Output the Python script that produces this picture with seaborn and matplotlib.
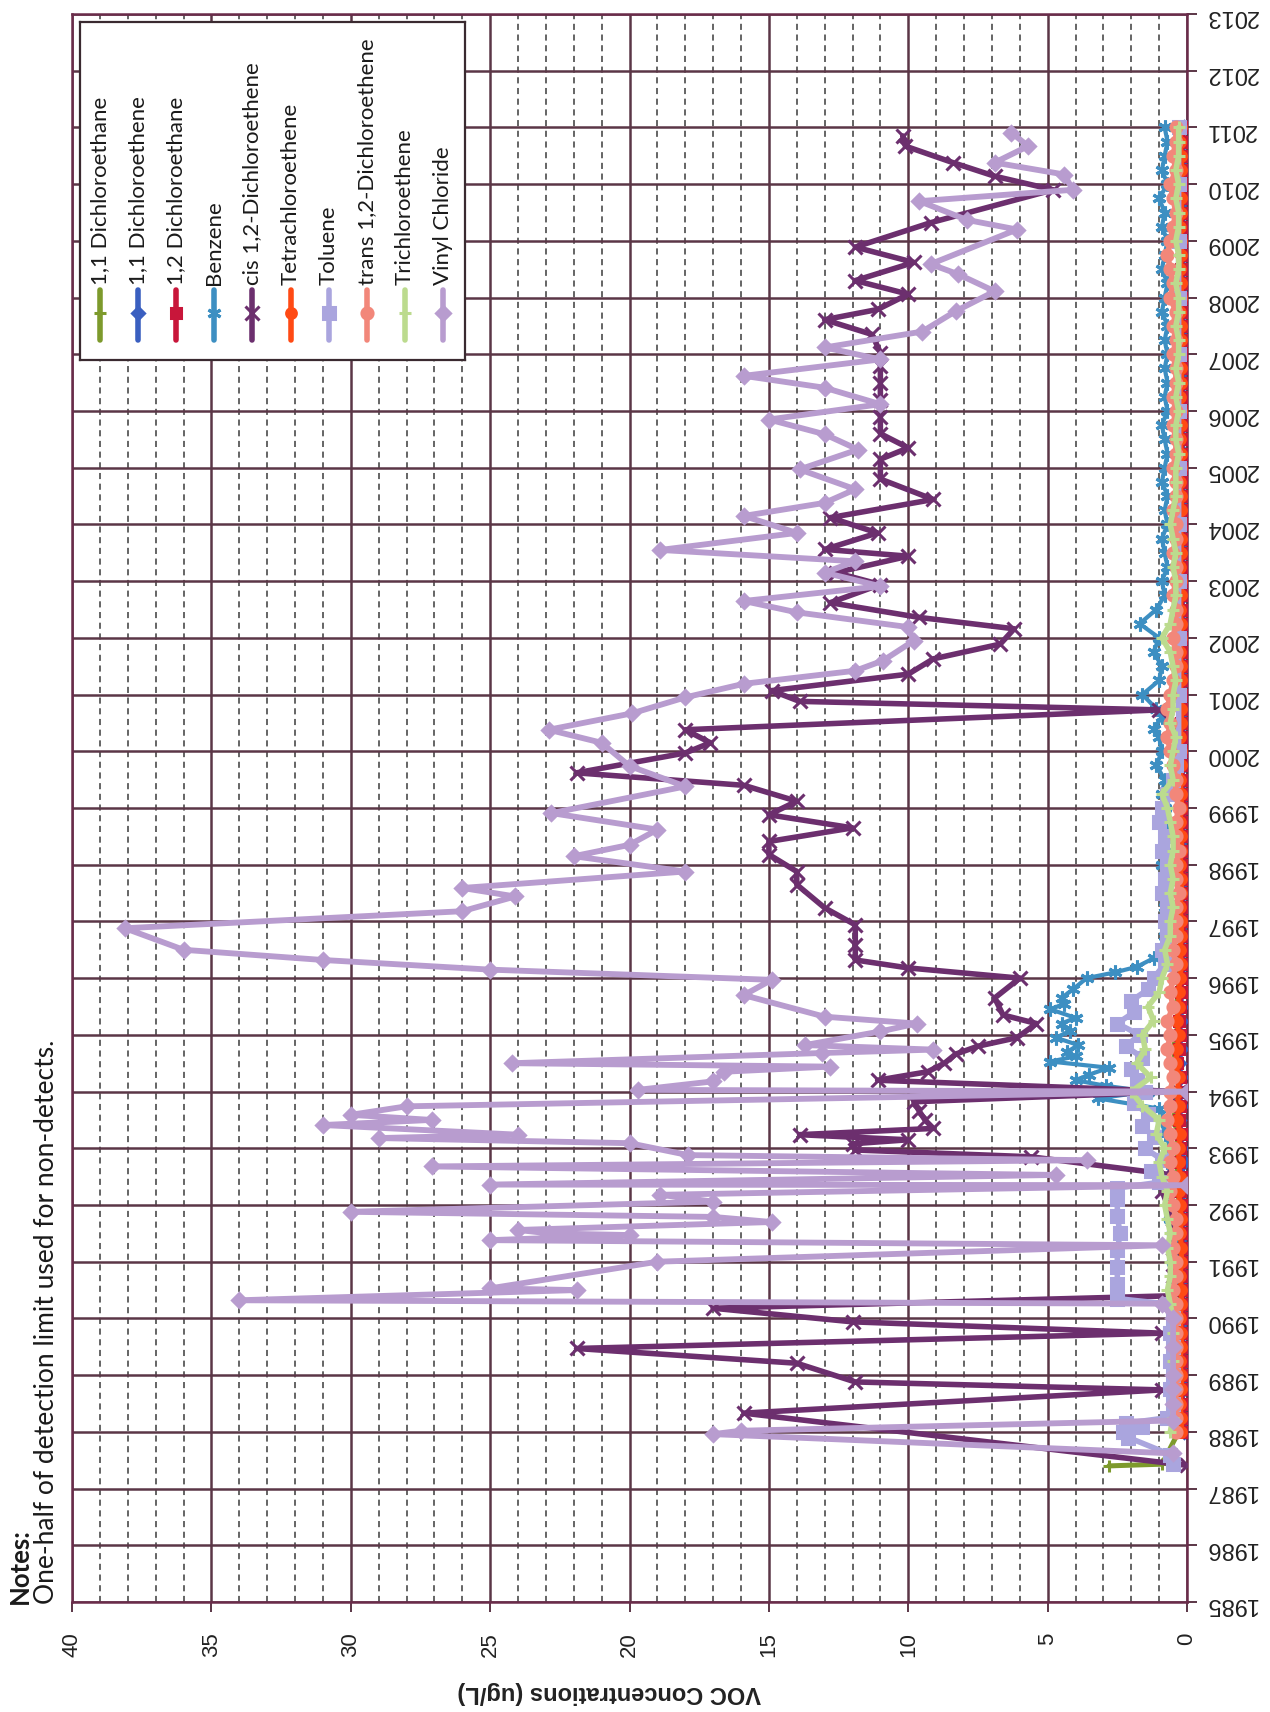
import numpy as np
import pandas as pd
import matplotlib
matplotlib.use("Agg")
import matplotlib.pyplot as plt
from matplotlib.ticker import MultipleLocator
import seaborn as sns

sns.set_theme(style="white")
plt.rcParams['font.family'] = ['Liberation Sans', 'DejaVu Sans']

# ---------------- data ----------------
series_names = ["1,1 Dichloroethane", "1,1 Dichloroethene", "1,2 Dichloroethane", "Benzene",
                "cis 1,2-Dichloroethene", "Tetrachloroethene", "Toluene",
                "trans 1,2-Dichloroethene", "Trichloroethene", "Vinyl Chloride"]

# quarterly sampling dates used by the low-level compounds (1988.00 ... 2011.00)
q_years = [1988.00, 1988.25, 1988.50, 1988.75, 1989.00, 1989.25, 1989.50, 1989.75,
           1990.00, 1990.25, 1990.50, 1990.75, 1991.00, 1991.25, 1991.50, 1991.75,
           1992.00, 1992.25, 1992.50, 1992.75, 1993.00, 1993.25, 1993.50, 1993.75,
           1994.00, 1994.25, 1994.50, 1994.75, 1995.00, 1995.25, 1995.50, 1995.75,
           1996.00, 1996.25, 1996.50, 1996.75, 1997.00, 1997.25, 1997.50, 1997.75,
           1998.00, 1998.25, 1998.50, 1998.75, 1999.00, 1999.25, 1999.50, 1999.75,
           2000.00, 2000.25, 2000.50, 2000.75, 2001.00, 2001.25, 2001.50, 2001.75,
           2002.00, 2002.25, 2002.50, 2002.75, 2003.00, 2003.25, 2003.50, 2003.75,
           2004.00, 2004.25, 2004.50, 2004.75, 2005.00, 2005.25, 2005.50, 2005.75,
           2006.00, 2006.25, 2006.50, 2006.75, 2007.00, 2007.25, 2007.50, 2007.75,
           2008.00, 2008.25, 2008.50, 2008.75, 2009.00, 2009.25, 2009.50, 2009.75,
           2010.00, 2010.25, 2010.50, 2010.75, 2011.00]

dca11_years = [1987.40, 1987.43] + q_years
dca11_vals = [2.8, 0.9,
              0.3, 0.3, 0.2, 0.3, 0.3, 0.2, 0.3, 0.3, 0.2, 0.3, 0.3, 0.3, 0.2, 0.3, 0.3, 0.2,
              0.3, 0.3, 0.4, 0.3, 0.4, 0.3, 0.5, 0.4, 0.6, 0.5, 0.4, 0.5, 0.4, 0.3, 0.4, 0.3,
              0.3, 0.3, 0.2, 0.3, 0.3, 0.2, 0.3, 0.3, 0.2, 0.3, 0.2, 0.3, 0.3, 0.2, 0.3, 0.3,
              0.2, 0.3, 0.2, 0.3, 0.3, 0.2, 0.3, 0.5, 0.3, 0.2, 0.3, 0.2, 0.3, 0.3, 0.2, 0.3,
              0.5, 0.3, 0.2, 0.3, 0.2, 0.3, 0.2, 0.2, 0.3, 0.2, 0.2, 0.3, 0.2, 0.2, 0.3, 0.2,
              0.2, 0.3, 0.2, 0.2, 0.3, 0.2, 0.2, 0.3, 0.2, 0.2, 0.3, 0.2, 0.2]

dce11_vals = [0.1, 0.1, 0.2, 0.1, 0.1, 0.1, 0.2, 0.1, 0.1, 0.2, 0.1, 0.1, 0.2, 0.1, 0.1, 0.2,
              0.1, 0.2, 0.2, 0.1, 0.2, 0.2, 0.3, 0.2, 0.3, 0.2, 0.3, 0.2, 0.3, 0.2, 0.2, 0.2,
              0.2, 0.1, 0.2, 0.1, 0.1, 0.2, 0.1, 0.1, 0.2, 0.1, 0.1, 0.2, 0.1, 0.1, 0.2, 0.1,
              0.1, 0.2, 0.1, 0.1, 0.2, 0.1, 0.1, 0.2, 0.1, 0.1, 0.2, 0.1, 0.1, 0.2, 0.1, 0.1,
              0.2, 0.1, 0.1, 0.2, 0.1, 0.1, 0.2, 0.1, 0.1, 0.2, 0.1, 0.1, 0.2, 0.1, 0.1, 0.2,
              0.1, 0.1, 0.2, 0.1, 0.1, 0.2, 0.1, 0.1, 0.2, 0.1, 0.1, 0.2, 0.1]

dca12_vals = [0.15, 0.1, 0.15, 0.2, 0.15, 0.1, 0.15, 0.2, 0.15, 0.1, 0.2, 0.15, 0.1, 0.15, 0.2, 0.15,
              0.2, 0.25, 0.2, 0.3, 0.25, 0.2, 0.3, 0.25, 0.3, 0.25, 0.35, 0.3, 0.25, 0.3, 0.25, 0.2,
              0.2, 0.15, 0.2, 0.15, 0.1, 0.15, 0.2, 0.15, 0.1, 0.15, 0.2, 0.15, 0.1, 0.15, 0.2, 0.15,
              0.1, 0.15, 0.2, 0.15, 0.1, 0.15, 0.2, 0.15, 0.1, 0.15, 0.2, 0.15, 0.1, 0.15, 0.2, 0.15,
              0.1, 0.15, 0.2, 0.15, 0.1, 0.15, 0.2, 0.15, 0.1, 0.15, 0.2, 0.15, 0.1, 0.15, 0.2, 0.15,
              0.1, 0.15, 0.2, 0.15, 0.1, 0.15, 0.2, 0.15, 0.1, 0.15, 0.2, 0.15, 0.1]

pce_vals = [0.2, 0.2, 0.25, 0.2, 0.2, 0.25, 0.2, 0.2, 0.25, 0.2, 0.2, 0.25, 0.2, 0.2, 0.25, 0.2,
            0.25, 0.3, 0.25, 0.3, 0.3, 0.25, 0.35, 0.3, 0.35, 0.3, 0.4, 0.35, 0.3, 0.35, 0.3, 0.3,
            0.25, 0.2, 0.25, 0.2, 0.2, 0.25, 0.2, 0.2, 0.25, 0.2, 0.2, 0.25, 0.2, 0.2, 0.25, 0.2,
            0.2, 0.25, 0.2, 0.2, 0.25, 0.2, 0.2, 0.25, 0.2, 0.2, 0.25, 0.2, 0.2, 0.25, 0.2, 0.2,
            0.25, 0.2, 0.2, 0.25, 0.2, 0.2, 0.25, 0.2, 0.2, 0.25, 0.2, 0.2, 0.25, 0.2, 0.2, 0.25,
            0.2, 0.2, 0.25, 0.2, 0.2, 0.25, 0.2, 0.2, 0.25, 0.2, 0.2, 0.25, 0.2]

trans_vals = [0.4, 0.4, 0.4, 0.4, 0.4, 0.4, 0.4, 0.4, 0.4, 0.4, 0.5, 0.4, 0.4, 0.5, 0.4, 0.4,
              0.5, 0.6, 0.5, 0.6, 0.5, 0.6, 0.7, 0.6, 0.6, 0.5, 0.6, 0.7, 0.6, 0.7, 0.5, 0.6,
              0.5, 0.4, 0.5, 0.4, 0.4, 0.4, 0.3, 0.4, 0.4, 0.3, 0.4, 0.4, 0.3, 0.4, 0.4, 0.5,
              0.6, 0.7, 0.6, 0.7, 0.6, 0.5, 0.4, 0.4, 0.5, 0.4, 0.4, 0.5, 0.4, 0.4, 0.5, 0.4,
              0.4, 0.5, 0.4, 0.4, 0.5, 0.4, 0.4, 0.5, 0.4, 0.5, 0.4, 0.4, 0.5, 0.4, 0.5, 0.4,
              0.6, 0.5, 0.6, 0.7, 0.6, 0.5, 0.4, 0.5, 0.6, 0.4, 0.5, 0.4, 0.4]

tce_vals = [0.6, 0.5, 0.5, 0.5, 0.5, 0.5, 0.5, 0.5, 0.5, 0.6, 0.7, 0.6, 0.6, 0.7, 0.6, 0.7,
            0.8, 0.7, 0.9, 1.0, 0.8, 1.1, 1.0, 1.6, 2.0, 1.3, 1.8, 1.5, 1.6, 1.2, 1.4, 1.0,
            0.9, 0.7, 0.8, 0.6, 0.6, 0.5, 0.6, 0.5, 0.6, 0.5, 0.5, 0.6, 0.7, 0.9, 0.5, 0.6,
            0.5, 0.4, 0.6, 0.5, 0.5, 0.4, 0.5, 0.6, 0.9, 0.6, 0.5, 0.4, 0.4, 0.5, 0.4, 0.5,
            0.6, 0.5, 0.4, 0.4, 0.4, 0.3, 0.4, 0.4, 0.3, 0.4, 0.3, 0.4, 0.3, 0.3, 0.4, 0.3,
            0.3, 0.4, 0.3, 0.3, 0.4, 0.3, 0.3, 0.4, 0.3, 0.4, 0.3, 0.3, 0.3]

benz_years = [1990.50, 1990.75, 1991.00, 1991.25, 1991.50, 1991.75, 1992.00, 1992.25, 1992.50,
              1992.75, 1993.00, 1993.25, 1993.50, 1993.70, 1993.88, 1994.00, 1994.10, 1994.20,
              1994.30, 1994.42, 1994.53, 1994.62, 1994.70, 1994.82, 1994.95, 1995.07, 1995.20,
              1995.30, 1995.45, 1995.55, 1995.65, 1995.80, 1996.00, 1996.10, 1996.20, 1996.35,
              1996.50, 1996.75, 1997.00, 1997.25, 1997.50, 1997.75, 1998.00, 1998.25, 1998.50,
              1998.75, 1999.00, 1999.25, 1999.50, 1999.75, 2000.00, 2000.25, 2000.40, 2000.60,
              2000.75, 2001.00, 2001.25, 2001.50, 2001.75, 2002.00, 2002.25, 2002.50, 2002.75,
              2003.00, 2003.25, 2003.50, 2003.75, 2004.00, 2004.25, 2004.50, 2004.75, 2005.00,
              2005.25, 2005.50, 2005.75, 2006.00, 2006.25, 2006.50, 2006.75, 2007.00, 2007.25,
              2007.50, 2007.75, 2008.00, 2008.25, 2008.50, 2008.75, 2009.00, 2009.25, 2009.50,
              2009.75, 2010.00, 2010.25, 2010.50, 2010.75, 2011.00]
benz_vals = [0.5, 0.4, 0.5, 0.4, 0.5, 0.6, 0.5, 0.6, 0.5,
             0.7, 0.6, 0.8, 0.9, 1.0, 3.2, 1.4, 2.9, 4.0,
             3.5, 2.8, 4.9, 4.0, 4.3, 3.9, 4.7, 4.2, 4.5,
             4.0, 4.9, 4.4, 4.5, 4.1, 3.6, 2.6, 1.8, 1.2,
             0.9, 0.8, 0.7, 0.8, 0.7, 0.8, 0.9, 0.7, 0.8,
             0.7, 0.8, 0.9, 0.8, 1.1, 0.9, 1.0, 1.2, 0.9,
             1.1, 1.6, 1.0, 0.9, 1.2, 1.0, 1.7, 1.1, 0.8,
             0.9, 0.7, 0.8, 0.9, 0.7, 0.8, 0.7, 0.9, 0.8,
             0.7, 0.8, 0.9, 0.7, 0.8, 0.7, 0.8, 0.7, 0.8,
             0.7, 0.9, 0.8, 0.7, 0.9, 0.8, 0.7, 0.9, 0.8,
             1.0, 0.7, 0.9, 0.8, 0.7, 0.8]

tol_years = [1987.43, 1987.60, 1987.90, 1988.00, 1988.08, 1988.15, 1988.25, 1988.50, 1988.75,
             1989.00, 1989.25, 1989.50, 1989.75, 1990.00, 1990.25, 1990.35, 1990.60, 1990.90,
             1991.20, 1991.50, 1991.80, 1992.10, 1992.30, 1992.40, 1992.60, 1992.80, 1993.00,
             1993.20, 1993.40, 1993.60, 1993.80, 1994.00, 1994.20, 1994.40, 1994.60, 1994.80,
             1995.00, 1995.20, 1995.40, 1995.60, 1995.80, 1996.00, 1996.25, 1996.50, 1996.75,
             1997.00, 1997.25, 1997.50, 1997.75, 1998.00, 1998.25, 1998.50, 1998.75, 1999.00,
             1999.25, 1999.50, 1999.75, 2000.00, 2001.00, 2002.00, 2003.00, 2004.00, 2005.00,
             2006.00, 2007.00, 2008.00, 2009.00, 2010.00, 2011.00]
tol_vals = [0.5, 0.6, 2.1, 2.3, 1.6, 2.2, 0.7, 0.5, 0.6,
            0.5, 0.6, 0.5, 0.6, 0.5, 0.6, 2.5, 2.5, 2.5,
            2.5, 2.4, 2.5, 2.5, 2.5, 1.0, 1.3, 0.9, 1.5,
            1.2, 1.6, 1.4, 1.9, 1.5, 1.8, 2.0, 1.6, 2.2,
            1.7, 2.5, 1.9, 2.0, 1.4, 1.2, 0.8, 0.9, 0.7,
            0.8, 0.7, 0.9, 0.8, 0.7, 0.9, 0.8, 1.0, 0.9,
            0.7, 0.5, 0.4, 0.3, 0.3, 0.3, 0.3, 0.3, 0.3,
            0.3, 0.3, 0.3, 0.3, 0.3, 0.3]

cis_years = [1987.41, 1988.33, 1988.74, 1988.88, 1989.21, 1989.47, 1989.74, 1989.94, 1990.18,
             1990.40, 1990.75, 1991.25, 1991.75, 1992.25, 1992.55, 1992.85, 1992.97, 1993.08,
             1993.15, 1993.24, 1993.35, 1993.50, 1993.65, 1993.82, 1994.00, 1994.20, 1994.35,
             1994.50, 1994.66, 1994.80, 1994.95, 1995.20, 1995.35, 1995.65, 1996.00, 1996.18,
             1996.32, 1996.59, 1996.94, 1997.24, 1997.65, 1997.88, 1998.18, 1998.41, 1998.65,
             1998.88, 1999.12, 1999.40, 1999.62, 1999.97, 2000.15, 2000.38, 2000.73, 2000.88,
             2001.07, 2001.36, 2001.63, 2001.89, 2002.16, 2002.36, 2002.62, 2002.94, 2003.15,
             2003.44, 2003.56, 2003.85, 2004.12, 2004.44, 2004.80, 2005.15, 2005.35, 2005.60,
             2005.90, 2006.20, 2006.50, 2006.80, 2007.03, 2007.35, 2007.61, 2007.79, 2008.06,
             2008.30, 2008.62, 2008.89, 2009.32, 2009.90, 2010.14, 2010.38, 2010.67, 2010.85]
cis_vals = [0.0, 15.9, 0.9, 11.9, 14.0, 21.9, 0.9, 12.0, 17.0,
            0.5, 0.5, 0.5, 0.5, 0.9, 0.8, 5.6, 11.9, 12.0,
            10.0, 13.9, 9.1, 9.4, 9.6, 9.8, 0.3, 11.1, 9.3,
            8.7, 8.3, 7.5, 6.1, 5.4, 6.6, 6.9, 6.0, 10.0,
            11.9, 11.9, 11.9, 13.0, 14.0, 14.0, 15.0, 15.0, 12.0,
            15.0, 14.0, 15.9, 21.9, 18.0, 17.1, 18.0, 1.0, 13.9,
            14.9, 10.0, 9.1, 6.7, 6.2, 9.6, 12.8, 11.0, 12.6,
            10.0, 13.0, 11.1, 12.8, 9.1, 11.0, 11.0, 10.0, 11.0,
            11.0, 11.0, 11.0, 11.0, 11.0, 11.3, 13.0, 11.1, 10.0,
            11.9, 9.8, 11.9, 9.2, 4.8, 6.9, 8.4, 10.1, 10.2]

vc_years = [1987.62, 1987.96, 1988.02, 1988.20, 1988.50, 1988.75, 1989.00, 1989.50, 1990.00,
            1990.26, 1990.32, 1990.50, 1990.53, 1991.00, 1991.29, 1991.38, 1991.47, 1991.50,
            1991.56, 1991.70, 1991.79, 1991.88, 1992.06, 1992.18, 1992.35, 1992.36, 1992.53,
            1992.68, 1992.79, 1992.88, 1993.09, 1993.18, 1993.24, 1993.41, 1993.50, 1993.59,
            1993.74, 1994.00, 1994.03, 1994.18, 1994.35, 1994.44, 1994.50, 1994.68, 1994.74,
            1994.82, 1995.06, 1995.20, 1995.32, 1995.70, 1995.97, 1996.15, 1996.32, 1996.50,
            1996.88, 1997.18, 1997.44, 1997.59, 1997.88, 1998.15, 1998.35, 1998.62, 1998.91,
            1999.38, 1999.74, 2000.15, 2000.38, 2000.67, 2000.95, 2001.19, 2001.42, 2001.60,
            2001.95, 2002.19, 2002.45, 2002.65, 2002.91, 2003.15, 2003.35, 2003.55, 2003.85,
            2004.15, 2004.38, 2004.62, 2004.97, 2005.32, 2005.59, 2005.85, 2006.12, 2006.41,
            2006.62, 2006.91, 2007.12, 2007.40, 2007.76, 2008.11, 2008.41, 2008.59, 2009.20,
            2009.37, 2009.70, 2009.90, 2010.17, 2010.38, 2010.67, 2010.91]
vc_vals = [0.5, 17.0, 16.0, 0.5, 0.5, 0.5, 0.5, 0.5, 0.5,
           0.9, 34.0, 21.9, 25.0, 19.0, 0.9, 25.0, 20.0, 22.9,
           24.0, 14.9, 17.0, 30.0, 17.0, 18.9, 0.0, 25.0, 4.7,
           27.1, 3.6, 17.9, 20.0, 29.0, 24.0, 31.0, 27.1, 30.0,
           28.0, 0.0, 19.7, 17.0, 16.6, 12.8, 24.2, 13.1, 9.1,
           13.7, 11.0, 9.7, 13.0, 15.9, 14.9, 25.0, 31.0, 36.0,
           38.1, 26.0, 24.1, 26.0, 18.0, 22.0, 20.0, 19.0, 22.8,
           18.0, 20.0, 21.0, 22.9, 19.9, 18.0, 15.9, 11.9, 10.9,
           9.8, 10.0, 14.0, 15.9, 11.0, 13.0, 11.9, 18.9, 14.0,
           15.9, 13.0, 11.9, 13.9, 11.8, 13.0, 15.0, 11.0, 13.0,
           15.9, 11.0, 13.0, 9.5, 8.3, 6.9, 8.2, 9.2, 6.1,
           7.9, 9.6, 4.1, 4.4, 6.9, 5.7, 6.3]

series_years = [dca11_years, q_years, q_years, benz_years, cis_years, q_years, tol_years,
                q_years, q_years, vc_years]
series_vals = [dca11_vals, dce11_vals, dca12_vals, benz_vals, cis_vals, pce_vals, tol_vals,
               trans_vals, tce_vals, vc_vals]

colors = ['#7d9a2c', '#3a5fc0', '#c8163a', '#3d8fc2', '#6c2f6e', '#ff4a14', '#aaa5de',
          '#f2877a', '#bcdb8e', '#b89ccf']
markers = ['+', 'D', 's', (6, 2, 0), 'x', 'o', 's', 'o', '+', 'D']
msizes = [9, 6, 7, 10, 10, 7, 8, 8, 9, 7]
lwidths = [3.6, 3.4, 3.4, 3.0, 4.0, 3.6, 4.0, 4.0, 4.0, 4.2]

year_ticks = list(range(1985, 2014))
conc_ticks = [0, 5, 10, 15, 20, 25, 30, 35, 40]

# ---------------- figure ----------------
W, H = 1270, 1712
fig = plt.figure(figsize=(W / 100, H / 100), dpi=100)
fig.patch.set_facecolor('white')
ax = fig.add_axes([72 / W, 110 / H, 1115 / W, 1588 / H])
ax.set_facecolor('white')

for name, yrs, vals, c, m, ms, lw in zip(series_names, series_years, series_vals, colors,
                                         markers, msizes, lwidths):
    df = pd.DataFrame({'conc': vals, 'year': yrs})
    sns.lineplot(data=df, x='conc', y='year', sort=False, estimator=None, ax=ax,
                 color=c, marker=m, markersize=ms, markeredgecolor=c, markerfacecolor=c,
                 markeredgewidth=2.2, linewidth=lw, legend=False, zorder=3)

ax.set_xlim(40, 0)
ax.set_ylim(1985, 2013)
ax.set_xticks(conc_ticks)
ax.xaxis.set_minor_locator(MultipleLocator(1))
ax.set_yticks(year_ticks)
ax.set_yticklabels([str(y) for y in year_ticks])
ax.yaxis.tick_right()

grid_col = '#5b3646'
ax.grid(which='major', axis='both', color=grid_col, linewidth=1.8, zorder=1)
ax.grid(which='minor', axis='x', color='#3a3a3a', linewidth=1.1, linestyle=(0, (4, 3)), zorder=1)
ax.set_axisbelow(True)
for s in ax.spines.values():
    s.set_color('#6a2c4a')
    s.set_linewidth(1.8)

ax.tick_params(axis='y', which='major', right=True, left=False, length=7, width=1.4,
               color=grid_col, labelrotation=180, labelsize=17, pad=6, labelcolor='#222222')
ax.tick_params(axis='x', which='major', bottom=True, length=7, width=1.4, color=grid_col,
               labelrotation=90, labelsize=16, pad=15, labelcolor='#222222')
ax.tick_params(axis='x', which='minor', bottom=False)
ax.set_xlabel('VOC Concentrations (ug/L)', rotation=180, fontsize=17, fontweight='bold',
              color='#222222', va='top', ha='center')
ax.xaxis.set_label_coords(0.482, -0.050)
ax.set_ylabel('')

# ---------------- legend (rotated like the page) ----------------
lx0, ly_top, lw_, lh_ = 80, 22, 385, 338
lax = fig.add_axes([lx0 / W, (H - ly_top - lh_) / H, lw_ / W, lh_ / H])
lax.set_xlim(0, lw_)
lax.set_ylim(lh_, 0)
lax.set_xticks([])
lax.set_yticks([])
lax.set_facecolor('white')
for s in lax.spines.values():
    s.set_color('#3a2a30')
    s.set_linewidth(1.6)
for i, (name, c, m, ms) in enumerate(zip(series_names, colors, markers, msizes)):
    hx = 20 + i * 38.1
    lax.plot([hx, hx], [268, 318], color=c, lw=4, solid_capstyle='round')
    lax.plot([hx], [291], color=c, marker=m, markersize=ms, markeredgewidth=2.2,
             markeredgecolor=c, markerfacecolor=c)
    lax.text(hx, 263, name, rotation=90, ha='center', va='bottom', fontsize=16,
             family=['Lato', 'DejaVu Sans'], color='#1a1a1a')

# ---------------- notes ----------------
fig.text(20 / W, (H - 1604) / H, 'Notes:', rotation=90, ha='center', va='bottom',
         fontsize=18.5, fontweight='bold', family=['Lato', 'DejaVu Sans'], color='#1a1a1a')
fig.text(47 / W, (H - 1604) / H, 'One-half of detection limit used for non-detects.',
         rotation=90, ha='center', va='bottom', fontsize=19, family=['Lato', 'DejaVu Sans'],
         color='#1a1a1a')

fig.savefig('out.png', dpi=100, facecolor='white')
